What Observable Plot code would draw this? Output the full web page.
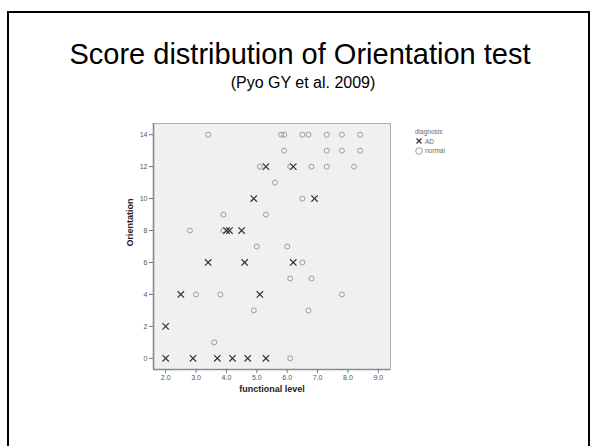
<!DOCTYPE html>
<html>
<head>
<meta charset="utf-8">
<script src="https://cdn.jsdelivr.net/npm/d3@7"></script>
<script src="https://cdn.jsdelivr.net/npm/@observablehq/plot@0.6"></script>
<style>
  html, body { margin: 0; padding: 0; background: #fff; }
  #page { position: relative; width: 596px; height: 446px; overflow: hidden; font-family: "Liberation Sans", Arial, sans-serif; }
  #slide { position: absolute; left: 7px; top: 11px; width: 579px; height: 460px; border: 2px solid #000; border-bottom: none; }
  #title { position: absolute; left: 0; top: 39.5px; width: 600px; text-align: center; font-size: 29px; line-height: 29px; color: #000; white-space: nowrap; }
  #subtitle { position: absolute; left: 6px; top: 75px; width: 594px; text-align: center; font-size: 16px; line-height: 16px; color: #000; white-space: nowrap; }
  #chart { position: absolute; left: 0; top: 0; }
  #legend { position: absolute; left: 415px; top: 127px; font-size: 6.5px; line-height: 9.5px; color: #6a6a6a; }
  #legend .row { display: flex; align-items: center; gap: 2px; }
  #legend svg { display: block; }
</style>
</head>
<body>
<div id="page">
  <div id="slide"></div>
  <div id="title">Score distribution of Orientation test</div>
  <div id="subtitle">(Pyo GY et al. 2009)</div>
  <div id="chart"></div>
  <div id="legend"></div>
</div>
<script>
// ---- data ----
const adLevel = [2.0, 2.9, 3.7, 4.2, 4.7, 5.3, 2.0, 2.5, 5.1, 3.4, 4.6, 6.2, 4.0, 4.1, 4.5, 4.9, 6.9, 5.3, 6.2];
const adOrientation = [0, 0, 0, 0, 0, 0, 2, 4, 4, 6, 6, 6, 8, 8, 8, 10, 10, 12, 12];

const normalLevel = [6.1, 3.6, 4.9, 6.7, 3.0, 3.8, 7.8, 6.1, 6.8, 6.5, 5.0, 6.0, 2.8, 3.9, 3.9, 5.3, 6.5, 5.6,
  5.1, 6.1, 6.8, 7.3, 8.2, 5.9, 7.3, 7.8, 8.4, 3.4, 5.8, 5.9, 6.5, 6.7, 7.3, 7.8, 8.4];
const normalOrientation = [0, 1, 3, 3, 4, 4, 4, 5, 5, 6, 7, 7, 8, 8, 9, 9, 10, 11,
  12, 12, 12, 12, 12, 13, 13, 13, 13, 14, 14, 14, 14, 14, 14, 14, 14];

const xTicks = [2, 3, 4, 5, 6, 7, 8, 9];
const yTicks = [0, 2, 4, 6, 8, 10, 12, 14];
const xDomain = [1.6, 9.4];
const yDomain = [-0.7, 14.7];
const groups = ["AD", "normal"];

const ad = adLevel.map((x, i) => ({x, y: adOrientation[i]}));
const normal = normalLevel.map((x, i) => ({x, y: normalOrientation[i]}));

const chart = Plot.plot({
  width: 596,
  height: 446,
  marginLeft: 153,
  marginRight: 206,
  marginTop: 123,
  marginBottom: 77,
  style: { fontFamily: "'Liberation Sans', Arial, sans-serif", background: "transparent", overflow: "visible" },
  x: { domain: xDomain },
  y: { domain: yDomain },
  marks: [
    Plot.frame({ fill: "#f0f0f0", stroke: "#b0b0b0" }),
    Plot.ruleX([xDomain[0]], { stroke: "#8a8a8a", strokeWidth: 1.6 }),
    Plot.ruleY([yDomain[0]], { stroke: "#8a8a8a", strokeWidth: 1.6 }),
    Plot.axisX({ ticks: xTicks, tickFormat: d => d.toFixed(1), tickSize: 4, tickPadding: 2, fontSize: 7, fill: "#555", stroke: "#777", label: null }),
    Plot.axisY({ ticks: yTicks, tickSize: 4, tickPadding: 2, fontSize: 7, fill: "#555", stroke: "#777", label: null }),
    Plot.text(["functional level"], { frameAnchor: "bottom", dy: 22.5, fontSize: 9, fontWeight: "bold", fill: "#222", text: d => d }),
    Plot.text(["Orientation"], { frameAnchor: "left", dx: -23, rotate: -90, fontSize: 9, fontWeight: "bold", fill: "#222", text: d => d }),
    Plot.dot(normal, { x: "x", y: "y", r: 2.5, stroke: "#9c9c9c", strokeWidth: 1, fill: "none" }),
    Plot.dot(ad, { x: "x", y: "y", symbol: "times", r: 3, stroke: "#333", strokeWidth: 1.2 })
  ]
});
document.getElementById("chart").appendChild(chart);

// legend
const legend = document.getElementById("legend");
const head = document.createElement("div");
head.textContent = "diagnosis";
legend.appendChild(head);
groups.forEach(g => {
  const row = document.createElement("div");
  row.className = "row";
  const icon = g === "AD"
    ? '<svg width="8" height="8"><path d="M1.5,1.5L6.5,6.5M6.5,1.5L1.5,6.5" stroke="#333" stroke-width="1.2"/></svg>'
    : '<svg width="8" height="8"><circle cx="4" cy="4" r="3.3" fill="none" stroke="#9c9c9c" stroke-width="1"/></svg>';
  row.innerHTML = icon + "<span>" + g + "</span>";
  legend.appendChild(row);
});
</script>
</body>
</html>
